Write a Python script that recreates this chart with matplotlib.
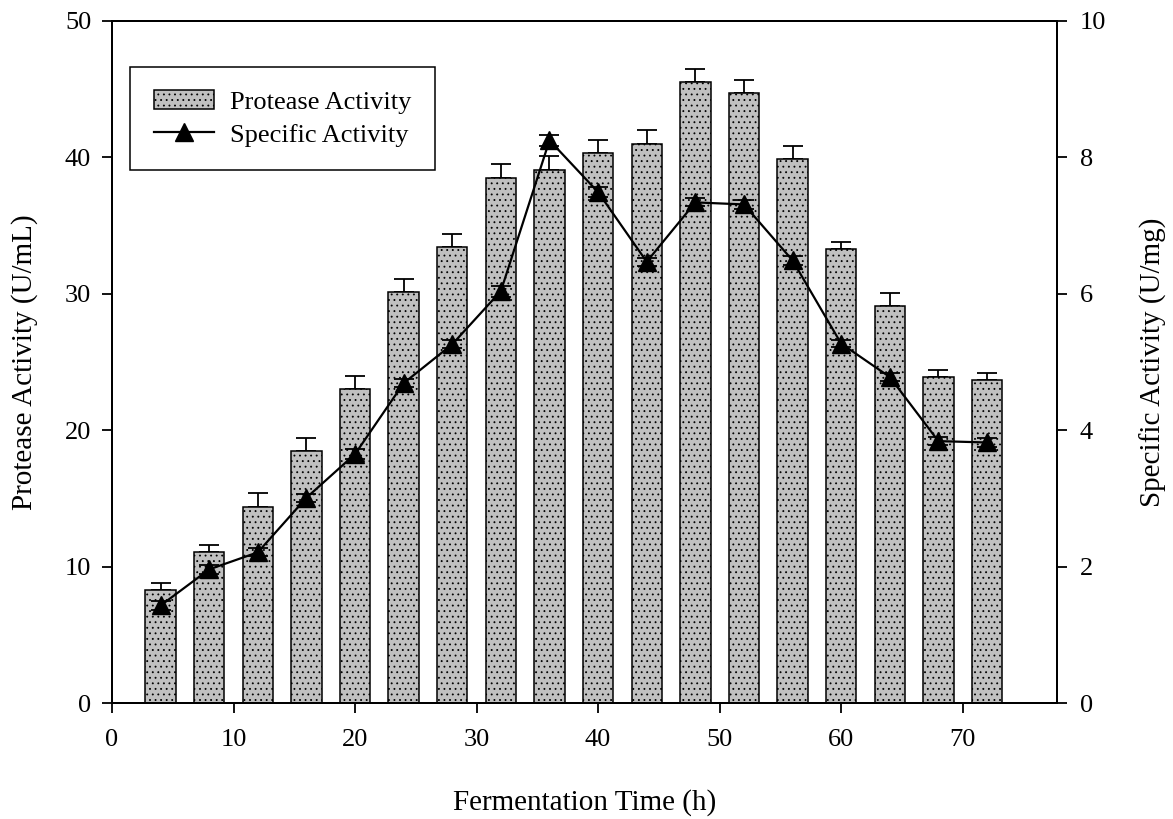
import numpy as np
import matplotlib
matplotlib.use("Agg")
import matplotlib.pyplot as plt

# data
time_h = [4, 8, 12, 16, 20, 24, 28, 32, 36, 40, 44, 48, 52, 56, 60, 64, 68, 72]
protease = [8.3, 11.1, 14.4, 18.5, 23.0, 30.1, 33.4, 38.5, 39.1, 40.3, 41.0, 45.5, 44.7, 39.9, 33.3, 29.1, 23.9, 23.7]
protease_err = [0.5, 0.5, 1.0, 0.95, 1.0, 1.0, 1.0, 1.0, 1.0, 0.97, 1.0, 1.0, 1.0, 0.97, 0.5, 0.95, 0.5, 0.5]
specific = [1.43, 1.96, 2.21, 3.01, 3.65, 4.69, 5.26, 6.04, 8.25, 7.49, 6.47, 7.34, 7.31, 6.49, 5.27, 4.78, 3.84, 3.82]
specific_err = [0.07, 0.07, 0.06, 0.06, 0.07, 0.06, 0.06, 0.08, 0.08, 0.07, 0.06, 0.06, 0.06, 0.07, 0.05, 0.06, 0.06, 0.06]

plt.rcParams['font.family'] = ['Liberation Serif', 'DejaVu Serif']
plt.rcParams['hatch.linewidth'] = 0.6
plt.rcParams['axes.linewidth'] = 1.4

fig = plt.figure(figsize=(11.73, 8.19), dpi=100)
ax1 = fig.add_axes([0.0955, 0.1416, 0.806, 0.8328])

# bars with one-sided (upper) error bars
bars = ax1.bar(time_h, protease, width=2.5, color='#c0c0c0', edgecolor='black',
               linewidth=1.1, hatch='...', label='Protease Activity', zorder=2)
ax1.errorbar(time_h, protease, yerr=[np.zeros(len(protease)), protease_err],
             fmt='none', ecolor='black', elinewidth=1.3, capsize=7.5, capthick=1.3, zorder=1)

ax1.set_xlim(0, 77.8)
ax1.set_ylim(0, 50)
ax1.set_xticks(range(0, 80, 10))
ax1.set_yticks(range(0, 60, 10))
ax1.tick_params(direction='out', length=7, width=1.3, labelsize=19, pad=8)
ax1.tick_params(axis='x', pad=12)
ax1.set_xlabel('Fermentation Time (h)', fontsize=21, labelpad=27)
ax1.set_ylabel('Protease Activity (U/mL)', fontsize=21, labelpad=19)

# specific activity on the right axis
ax2 = ax1.twinx()
line = ax2.errorbar(time_h, specific, yerr=specific_err, fmt='-^', color='black',
                    ms=13, lw=1.6, ecolor='black', elinewidth=1.3, capsize=7.5,
                    capthick=1.3, label='Specific Activity')
ax2.set_ylim(0, 10)
ax2.set_yticks(range(0, 12, 2))
ax2.tick_params(direction='out', length=7, width=1.3, labelsize=19, pad=9)
ax2.set_ylabel('Specific Activity (U/mg)', fontsize=21, labelpad=24)

handles = [bars, line.lines[0]]
leg = ax1.legend(handles, ['Protease Activity', 'Specific Activity'],
                 loc='upper left', bbox_to_anchor=(0.019, 0.933), borderaxespad=0,
                 fontsize=19, fancybox=False, framealpha=1, edgecolor='black',
                 handlelength=2.3, handletextpad=0.6, borderpad=0.9, labelspacing=0.35,
                 numpoints=1)
leg.get_frame().set_linewidth(1.1)

fig.savefig('out.png', dpi=100)
